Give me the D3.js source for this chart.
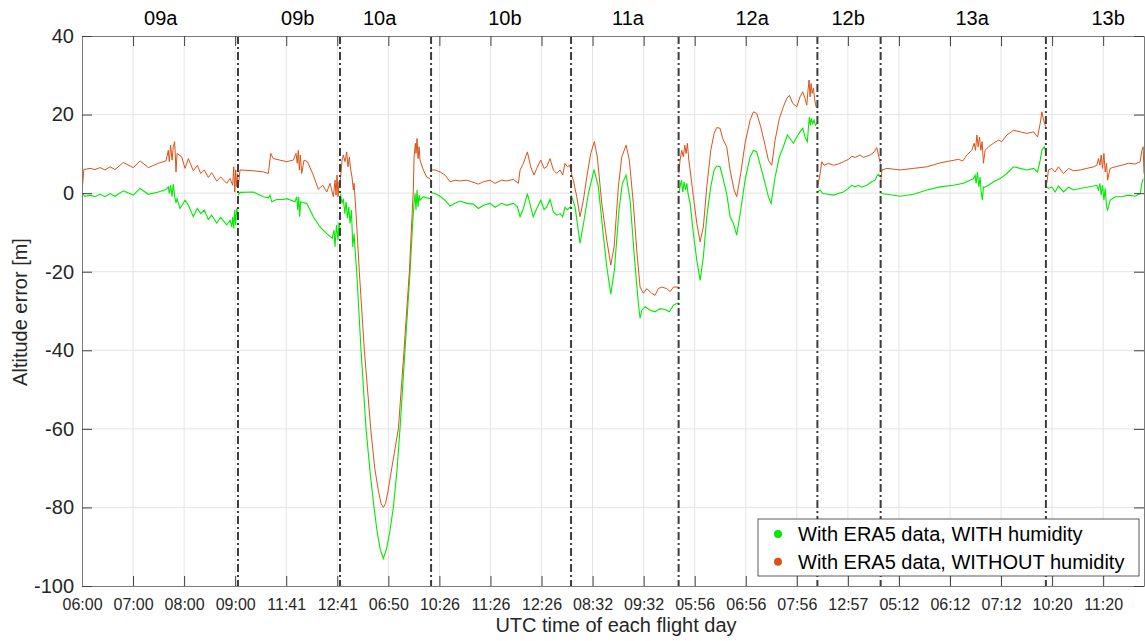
<!DOCTYPE html>
<html>
<head>
<meta charset="utf-8">
<script src="https://cdn.jsdelivr.net/npm/d3@7"></script>
<style>
  body { margin: 0; background: #fff; }
  svg { font-family: "Liberation Sans", Arial, Helvetica, sans-serif; }
</style>
</head>
<body>
<svg id="chart" width="1145" height="641"></svg>
<script>
// flights, separators (concatenated minutes), label positions
const flights = ["09a", "09b", "10a", "10b", "11a", "12a", "12b", "13a", "13b"];
const flightBreaks = [183.3, 303.2, 410.2, 574.7, 701.1, 864.2, 938.5, 1132.7];
const flightLabelAt = [92.5, 253.5, 349.8, 497, 641.7, 787.5, 900.3, 1046, 1205.8];

// x ticks every 60 min of concatenated flight time
const tickLabels = ["06:00", "07:00", "08:00", "09:00", "11:41", "12:41", "06:50", "10:26", "11:26", "12:26",
  "08:32", "09:32", "05:56", "06:56", "07:56", "12:57", "05:12", "06:12", "07:12", "10:20", "11:20"];
const yTicks = [-100, -80, -60, -40, -20, 0, 20, 40];

// [minute, altitude error] -- WITH humidity (hum) / WITHOUT humidity (dry)
const dry09a = [[0,0.2],[2.2,6.0],[9.4,6.3],[15.3,6.0],[21.2,6.5],[27,5.9],[32.9,6.7],[38.8,6.0],[48.5,7.8],[60.3,6.5],[68.2,8.2],[78,6.5],[89.7,7.6],[98.7,8.2],[101.4,10.9],[102.6,8.0],[104.2,12.2],[105.8,8.4],[107.3,11.8],[108.9,13.1],[110.5,5.4],[111.7,10.1],[117.2,9.2],[121.1,6.3],[125,8.8],[130.8,5.7],[135.5,7.1],[139.5,5.0],[143.7,5.9],[148.4,4.0],[152.4,5.2],[158.3,3.1],[163,4.1],[170,2.5],[174,3.7],[177.1,2.0],[178.3,6.7],[179.5,0.3],[180.6,5.9],[181.8,1.6],[183,5.0]];
const hum09a = [[0,0.1],[3.5,-0.8],[9.4,-0.5],[15.3,-0.9],[21.2,-0.3],[27,-0.9],[32.9,-0.1],[38.8,-0.8],[48.5,0.6],[60.3,-0.5],[68.2,1.2],[78,-0.3],[89.7,0.3],[98.7,0.9],[101.4,1.6],[102.6,-0.1],[104.2,2.0],[105.8,-0.9],[107.3,2.3],[108.9,-0.9],[110.5,-2.5],[111.7,-1.4],[115.2,-3.9],[121.1,-1.8],[125,-3.1],[130.8,-6.0],[135.5,-3.9],[139.5,-5.2],[143.7,-4.3],[148.4,-6.7],[152.4,-5.6],[158.3,-7.6],[163,-6.2],[170,-8.1],[174,-6.9],[176,-8.6],[177.1,-6.0],[178.3,-9.0],[179.5,-4.3],[180.6,-8.1],[181.8,-3.9],[183,-5.2]];

const dry09b = [[183.6,1.6],[185.7,5.9],[201.3,5.7],[213.1,5.4],[219,5.0],[221.8,10.1],[224.8,8.8],[232.7,8.4],[240.6,8.0],[248.3,8.4],[251.5,10.1],[253,7.6],[254.2,10.9],[255.4,5.9],[256.6,9.7],[258.2,5.0],[260.9,8.4],[265,8.0],[271.8,4.6],[277.7,1.0],[282.9,2.0],[287.6,0.3],[291.5,2.5],[295.4,-0.9],[297.4,3.3],[298.5,-0.5],[299.7,4.6],[300.9,-0.9],[302,2.9],[303.2,1.6]];
const hum09b = [[183.6,-0.5],[185.7,0.2],[201.3,0.3],[213.1,-0.9],[219,-1.2],[220.9,-0.5],[223,-2.2],[228.8,-1.6],[236.6,-1.6],[240.6,-1.4],[250.3,-2.2],[252.3,-0.9],[253.5,-4.3],[254.7,-0.9],[255.8,-6.0],[257,-2.2],[258.5,-2.4],[264.1,-2.6],[271.8,-6.0],[279.7,-8.6],[287.6,-10.3],[294,-11.5],[296.2,-9.4],[297.3,-13.7],[299.1,-8.1],[300.9,-12.0],[302,-7.4],[303.2,-8.9]];

const dry10a = [[303.6,3.3],[305.6,8.4],[307.1,9.7],[309.1,8.0],[311.1,10.5],[312.6,6.7],[314.2,9.2],[315.8,5.9],[317.3,4.1],[318.9,0.8],[319.7,2.5],[322,-5],[325.9,-20],[331.8,-40],[339.3,-60],[344,-70],[348.5,-76],[351.5,-79],[354.1,-80],[356.7,-79],[359.5,-76],[364,-70],[371.8,-60],[378.4,-40],[384.7,-20],[388,-5],[389.4,1],[390.2,9.2],[391.8,12.7],[392.5,10.1],[393.7,13.9],[394.9,8.8],[396.1,11.8],[397.2,8.4],[401.1,5.9],[405.1,4.1],[409,3.7],[410.2,3.0]];
const hum10a = [[303.6,-0.1],[305.6,-2.6],[307.1,-1.4],[308.8,-5.2],[310.3,-2.2],[311.9,-6.4],[313.5,-3.5],[315,-7.7],[316.6,-4.3],[318.2,-13.7],[319.7,-10.3],[320.8,-14],[322.8,-20],[327.9,-40],[333.8,-60],[338.5,-71],[343.2,-80],[347,-86.5],[350.5,-90.7],[354.1,-93],[357.7,-90.7],[361.5,-86.5],[365.9,-80],[370,-71],[373.7,-60],[379.6,-40],[385.5,-20],[388.5,-8],[390.2,-2.6],[391.4,-0.1],[392.5,-4.3],[393.7,0.8],[394.9,-3.5],[396.1,-0.5],[397.2,-1.8],[401.1,-0.9],[405.1,-1.2],[409,-1.4],[410.2,-1.0]];

const dry10b = [[410.5,5.9],[414.9,5.9],[420.8,5.4],[426.6,4.6],[432.5,2.9],[438.4,3.3],[444.3,3.1],[452.1,3.3],[458,2.9],[465.8,2.3],[471.7,2.9],[479.5,3.3],[485.4,2.5],[493.2,3.3],[499.1,3.1],[506.9,3.5],[512.8,2.5],[514.8,5.9],[518.7,7.6],[523.4,10.5],[527.3,6.7],[531.2,4.6],[534.4,6.3],[539.1,8.4],[543,6.3],[546.1,6.7],[550,8.8],[553.9,5.9],[557.9,5.0],[561.8,5.9],[564.9,4.6],[567.6,7.6],[570.4,6.7],[572.7,7.1],[574.6,5.9]];
const hum10b = [[410.5,0.1],[414.9,-0.1],[420.8,-0.8],[426.6,-1.8],[432.5,-3.3],[438.4,-2.6],[444.3,-2.0],[452.1,-2.6],[459.9,-2.8],[465.8,-3.9],[471.7,-3.1],[479.5,-2.6],[485.4,-3.6],[493.2,-2.6],[499.1,-3.1],[506.9,-2.6],[511.6,-3.5],[514.8,-6.0],[518.7,-3.9],[523.4,-0.1],[527.3,-3.5],[530.2,-6.0],[534.4,-3.9],[539.1,-1.8],[543,-4.2],[546.1,-3.5],[550,-1.6],[553.9,-4.8],[557.9,-5.6],[561.8,-5.2],[564.9,-6.0],[567.6,-3.6],[570.4,-4.2],[574.6,-3.3]];

const dry11a = [[574.9,5.9],[575.5,4.6],[577.4,3.3],[581.4,-0.9],[585.3,-6.0],[589.2,-1.8],[593.2,4.1],[597.8,10.1],[602.1,13.1],[605.6,9.2],[610.8,-2.6],[616.7,-12.0],[621.4,-18.3],[625.3,-13.7],[630.3,1.6],[634.3,9.2],[639.4,12.2],[643.2,8.4],[647.9,-2.6],[651.9,-14.5],[655.8,-23.9],[659.7,-25.5],[663.6,-24.3],[669.5,-25.5],[673.4,-26.0],[677.3,-24.3],[681.3,-23.9],[687.2,-24.3],[691.1,-25.1],[695,-23.9],[700.8,-23.9]];
const hum11a = [[574.9,-0.5],[579.4,-3.5],[585.3,-12.8],[590,-6.9],[595,-0.1],[601.8,6.0],[606.8,1.6],[612,-9.4],[616.7,-18.8],[621.4,-25.7],[625.6,-19.6],[631.1,-4.3],[635,2.5],[639.4,4.6],[644.1,-1.8],[648.8,-15.4],[653.8,-28.1],[655.8,-31.9],[657.8,-29.8],[661.7,-28.9],[667.6,-29.8],[673.4,-30.2],[679.3,-29.4],[685.2,-29.6],[690.2,-30.2],[695,-28.5],[700.8,-27.9]];

const dry12a = [[701.3,5.0],[702.8,8.4],[704.8,10.9],[706.7,9.2],[708.3,12.2],[709.9,10.1],[711.4,12.7],[713.1,8.4],[714.6,5.9],[718.5,-0.9],[722.5,-7.7],[726.4,-12.4],[730.2,-8.6],[734.2,1.6],[738.9,10.9],[742.8,15.2],[745.9,16.7],[749.8,16.5],[752.9,13.9],[757.6,11.8],[761.6,5.9],[766.3,0.8],[769.4,-0.9],[774.1,5.0],[779.2,12.7],[785.1,18.6],[789,20.7],[792.9,20.3],[797.6,16.9],[802.7,12.2],[806.6,8.4],[810.6,7.1],[814.5,13.5],[819.5,19.0],[824.2,22.0],[828.2,24.1],[831.3,24.9],[835.3,22.8],[840,22.0],[843.8,24.5],[847,25.8],[849.7,24.1],[851.7,22.4],[853.2,26.2],[854.4,28.8],[855.6,24.5],[856.8,27.9],[858,25.4],[859.5,26.7],[861.1,23.7],[862.6,22.0],[864,21.6]];
const hum12a = [[701.3,0.1],[702.8,1.6],[704.4,3.3],[706,0.3],[707.5,2.9],[709.1,0.8],[710.7,2.5],[712.2,-0.1],[714.6,-2.6],[718.5,-10.3],[722.5,-17.1],[726.4,-22.2],[730.2,-16.2],[734.2,-6.0],[738.9,1.6],[742.8,5.9],[745.9,6.9],[749.8,6.7],[752.9,4.1],[757.6,-0.1],[761.6,-6.0],[765.5,-7.7],[769.4,-10.7],[774.1,-4.3],[779.2,3.3],[785.1,9.2],[789,10.9],[792.9,10.5],[797.6,6.7],[802.7,2.5],[806.6,-0.9],[809.8,-2.6],[814.5,4.1],[819.5,9.2],[824.2,11.8],[828.9,14.8],[832.1,13.9],[836,12.7],[840,14.3],[843.8,15.6],[847,16.5],[849.7,14.3],[852.4,13.1],[853.6,16.5],[854.8,19.4],[855.9,17.3],[857.1,19.0],[858.7,17.7],[860.2,18.6],[861.8,17.3],[864,17.7]];

const dry12b = [[864.5,1.6],[867.4,5.0],[869.4,8.0],[872.1,7.1],[877.1,7.6],[883,7.1],[888.9,7.4],[894.8,8.0],[900.6,8.6],[904.6,9.4],[908.5,9.1],[914.4,9.7],[918.3,9.1],[922.3,9.4],[926.2,9.7],[930.9,10.5],[934,11.6],[935.9,9.7],[938.2,7.6]];
const hum12b = [[864.5,0.3],[867.4,0.8],[870.5,-0.1],[877.1,-0.3],[883,-0.5],[888.9,-0.1],[894.8,0.3],[900.6,1.2],[904.6,2.0],[908.5,1.6],[912.4,2.0],[916.4,1.5],[922.3,2.0],[928.1,2.9],[932,3.3],[934,4.3],[935.9,4.8],[938.2,4.1]];

const dry13a = [[938.6,2.9],[940,5.9],[945.7,6.3],[961.5,5.9],[977.1,6.3],[992.8,6.7],[1008.4,7.7],[1020.2,8.2],[1030,8.6],[1035.1,8.2],[1039.8,9.7],[1045.7,10.9],[1048.4,12.7],[1050,10.9],[1051.6,14.8],[1053.1,11.8],[1054.7,14.3],[1056.3,10.9],[1057.8,13.1],[1059.3,7.6],[1061.3,10.9],[1065.2,11.8],[1071.1,12.7],[1076.9,13.5],[1080.9,13.1],[1086.8,14.8],[1094.6,16.0],[1102.5,15.6],[1110.3,15.2],[1118.2,15.6],[1122.9,14.3],[1126,17.7],[1128,20.7],[1130,18.6],[1132.4,16.9]];
const hum13a = [[938.8,-0.1],[945.7,-0.3],[961.5,-0.8],[977.1,-0.3],[992.8,0.8],[1008.4,1.6],[1024.1,2.0],[1035.8,2.5],[1043.7,3.3],[1047.6,3.7],[1049.5,4.6],[1050.7,2.5],[1052.3,5.4],[1053.9,1.6],[1055.4,4.1],[1056.6,0.3],[1058.2,-1.8],[1059.3,1.6],[1061.3,1.5],[1065.2,2.0],[1071.1,2.9],[1079,3.7],[1086.8,5.0],[1094.6,6.7],[1102.5,6.3],[1110.3,5.9],[1118.2,6.3],[1122.9,5.4],[1126,8.4],[1128,10.9],[1130.7,11.8],[1132.4,10.9]];

const dry13b = [[1133.8,2.5],[1135.7,5.9],[1139.6,6.3],[1143.5,5.4],[1147.5,6.7],[1153.4,5.0],[1159.3,6.3],[1165.1,5.7],[1173,5.9],[1180.8,6.3],[1188.7,6.7],[1192.6,7.1],[1194.5,8.8],[1196.2,7.1],[1197.7,9.7],[1199.3,6.3],[1200.9,10.1],[1202.4,5.4],[1204,7.6],[1205.2,3.3],[1208.2,6.3],[1214.1,6.7],[1221.9,7.1],[1229.8,7.6],[1237.6,7.4],[1243.5,8.0],[1245.5,10.9],[1247,11.8],[1248,5.0]];
const hum13b = [[1133.8,1.6],[1135.7,1.2],[1139.6,1.6],[1143.5,0.3],[1147.5,1.8],[1153.4,0.3],[1159.3,1.5],[1165.1,0.8],[1173,1.2],[1180.8,1.5],[1188.7,1.8],[1192.6,2.0],[1194.5,0.8],[1196.2,2.5],[1197.7,-0.5],[1199.3,2.0],[1200.9,-1.8],[1202.4,1.2],[1204,-3.5],[1205.2,-4.3],[1208.2,-1.8],[1214.1,-0.9],[1221.9,-0.9],[1229.8,-0.5],[1237.6,-0.8],[1243.5,-0.1],[1245.5,2.5],[1247,3.7]];

const withHumidity = [hum09a, hum09b, hum10a, hum10b, hum11a, hum12a, hum12b, hum13a, hum13b];
const withoutHumidity = [dry09a, dry09b, dry10a, dry10b, dry11a, dry12a, dry12b, dry13a, dry13b];

const greenColor = "#00ea00";
const orangeColor = "#d95319";

const svg = d3.select("#chart");
const plot = { left: 82, right: 1144, top: 36, bottom: 586 };

const x = d3.scaleLinear().domain([0, 1248]).range([plot.left, plot.right]);
const y = d3.scaleLinear().domain([-100, 40]).range([plot.bottom, plot.top]);
const xTickVals = tickLabels.map((_, i) => i * 60);

svg.append("defs").append("clipPath").attr("id", "clip")
  .append("rect")
  .attr("x", plot.left).attr("y", plot.top)
  .attr("width", plot.right - plot.left).attr("height", plot.bottom - plot.top);

// grid
const grid = svg.append("g").attr("stroke", "#e4e4e4").attr("stroke-width", 1);
xTickVals.slice(1).forEach(v => {
  grid.append("line").attr("x1", x(v)).attr("x2", x(v)).attr("y1", plot.top).attr("y2", plot.bottom);
});
yTicks.slice(1, -1).forEach(v => {
  grid.append("line").attr("x1", plot.left).attr("x2", plot.right).attr("y1", y(v)).attr("y2", y(v));
});

// data lines
const line = d3.line().x(d => x(d[0])).y(d => y(d[1]));
const lines = svg.append("g").attr("clip-path", "url(#clip)").attr("fill", "none");
withHumidity.forEach(seg => {
  lines.append("path").attr("d", line(seg)).attr("stroke", greenColor).attr("stroke-width", 1.1);
});
withoutHumidity.forEach(seg => {
  lines.append("path").attr("d", line(seg)).attr("stroke", orangeColor).attr("stroke-width", 1);
});

// flight separators
flightBreaks.forEach(b => {
  svg.append("line")
    .attr("x1", x(b)).attr("x2", x(b)).attr("y1", plot.top).attr("y2", plot.bottom)
    .attr("stroke", "#3c3c3c").attr("stroke-width", 2)
    .attr("stroke-dasharray", "8 3 2 3");
});

// axes
const xAxis = svg.append("g").attr("transform", `translate(0,${plot.bottom})`)
  .call(d3.axisBottom(x).tickValues(xTickVals).tickFormat((d, i) => tickLabels[i])
    .tickSizeInner(-10).tickSizeOuter(0).tickPadding(13));
const xAxisTop = svg.append("g").attr("transform", `translate(0,${plot.top})`)
  .call(d3.axisTop(x).tickValues(xTickVals).tickFormat("").tickSizeInner(-10).tickSizeOuter(0));
const yAxis = svg.append("g").attr("transform", `translate(${plot.left},0)`)
  .call(d3.axisLeft(y).tickValues(yTicks).tickFormat(d => String(d))
    .tickSizeInner(-10).tickSizeOuter(0).tickPadding(8));
const yAxisRight = svg.append("g").attr("transform", `translate(${plot.right},0)`)
  .call(d3.axisRight(y).tickValues(yTicks).tickFormat("").tickSizeInner(-10).tickSizeOuter(0));

[xAxis, xAxisTop, yAxis, yAxisRight].forEach(g => {
  g.select(".domain").attr("stroke", "#7a7a7a");
  g.selectAll(".tick line").attr("stroke", "#404040");
});
xAxis.selectAll("text").attr("font-size", 16).attr("fill", "#262626");
yAxis.selectAll("text").attr("font-size", 20).attr("fill", "#262626");

// flight labels
svg.append("g").selectAll("text").data(flights).join("text")
  .attr("x", (d, i) => x(flightLabelAt[i])).attr("y", 25)
  .attr("text-anchor", "middle").attr("font-size", 20).attr("fill", "#000")
  .text(d => d);

// axis titles
svg.append("text").attr("x", 616).attr("y", 632).attr("text-anchor", "middle")
  .attr("font-size", 20).attr("fill", "#262626").text("UTC time of each flight day");
svg.append("text").attr("transform", "translate(27,312) rotate(-90)").attr("text-anchor", "middle")
  .attr("font-size", 20).attr("fill", "#262626").text("Altitude error [m]");

// legend
const legendItems = [
  { label: "With ERA5 data, WITH humidity", color: greenColor },
  { label: "With ERA5 data, WITHOUT humidity", color: orangeColor }
];
const legend = svg.append("g").attr("transform", "translate(758,519)");
legend.append("rect").attr("width", 381).attr("height", 57)
  .attr("fill", "#fff").attr("stroke", "#333").attr("stroke-width", 0.8);
legendItems.forEach((d, i) => {
  const row = legend.append("g").attr("transform", `translate(0,${15 + i * 27.7})`);
  row.append("circle").attr("cx", 20).attr("cy", 0).attr("r", 4).attr("fill", d.color);
  row.append("text").attr("x", 40).attr("y", 7).attr("font-size", 20).attr("fill", "#000").text(d.label);
});
</script>
</body>
</html>
